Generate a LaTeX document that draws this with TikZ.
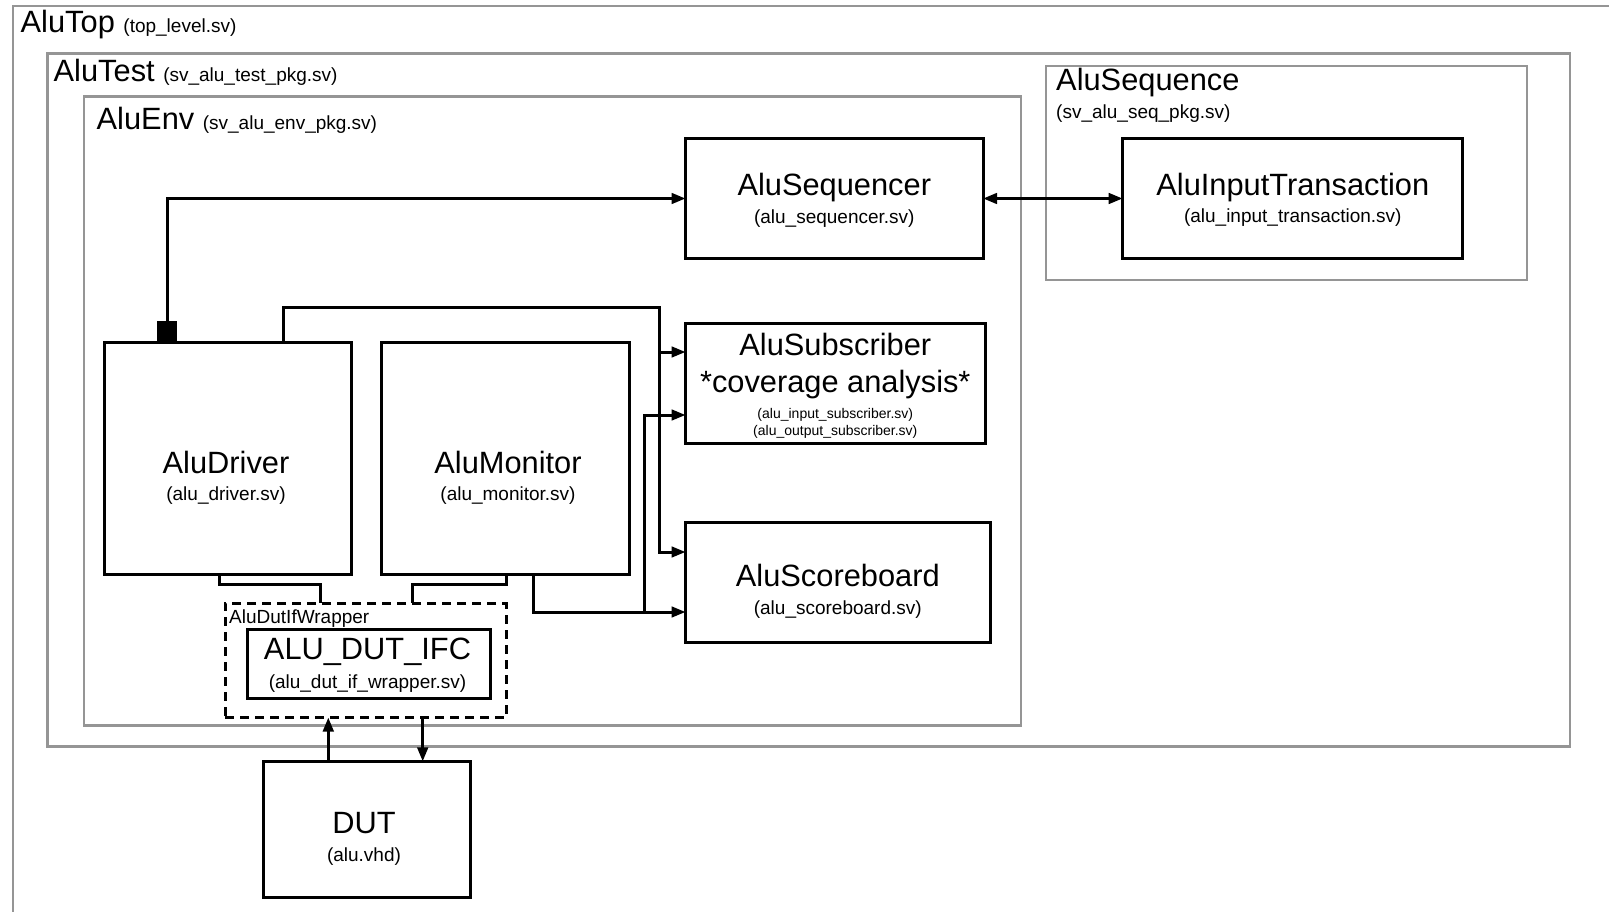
\documentclass[tikz,border=0pt]{standalone}
\usepackage{fontspec}
\setmainfont{Liberation Sans}
\usetikzlibrary{arrows.meta}
\newcommand{\bigf}{\fontsize{30.8}{34}\selectfont}
\newcommand{\smf}{\fontsize{19}{22}\selectfont}
\newcommand{\tinyf}{\fontsize{14}{16}\selectfont}
\definecolor{framegray}{HTML}{959595}
\begin{document}
\begin{tikzpicture}[x=1pt,y=-1pt,
  gframe/.style={draw=framegray, line width=2.8pt},
  blk/.style={draw=black, line width=3pt, inner sep=0pt, outer sep=0pt},
  dashblk/.style={draw=black, line width=3pt, dash pattern=on 9pt off 6pt, inner sep=0pt, outer sep=0pt},
  wire/.style={draw=black, line width=3pt},
  arr/.style={wire, -{Triangle[length=14pt,width=10.5pt]}},
  biarr/.style={wire, {Triangle[length=14pt,width=10.5pt]}-{Triangle[length=14pt,width=10.5pt]}},
  ttl/.style={anchor=base, inner sep=0pt, font=\bigf},
  sub/.style={anchor=base, inner sep=0pt, font=\smf},
  tiny/.style={anchor=base, inner sep=0pt, font=\tinyf},
  hdr/.style={anchor=base west, inner sep=0pt}]

\fill[white] (0,0) rectangle (1609,912);
\useasboundingbox (0,0) rectangle (1609,912);

% grey frames
\draw[gframe] (1615,6) -- (13,6) -- (13,918);
\draw[gframe] (47.2,53.4) rectangle (1570,746.5);
\draw[gframe] (84,96.5) rectangle (1021,725.5);
\draw[gframe] (1046,66) rectangle (1527,280);

% frame headers
\node[hdr] (topT) at (20.5,33) {\bigf AluTop \smf(top\_level.sv)};
\node[hdr] (testT) at (53.5,82) {\bigf AluTest \smf(sv\_alu\_test\_pkg.sv)};
\node[hdr] (envT) at (96.5,130) {\bigf AluEnv \smf(sv\_alu\_env\_pkg.sv)};
\node[hdr, font=\bigf] (seqpT) at (1056,90.5) {AluSequence};
\node[hdr, font=\smf] (seqpF) at (1056,118.5) {(sv\_alu\_seq\_pkg.sv)};

% blocks
\node[blk, minimum width=297.5pt, minimum height=120pt] (seq) at (834.3,198.5) {};
\node[blk, minimum width=340.3pt, minimum height=120pt] (ait) at (1292.8,198.5) {};
\node[blk, minimum width=299.5pt, minimum height=120.5pt] (subs) at (835.3,383.3) {};
\node[blk, minimum width=304.5pt, minimum height=120.4pt] (sb) at (837.8,582.2) {};
\node[blk, minimum width=247.3pt, minimum height=231.5pt] (drv) at (228.3,458.3) {};
\node[blk, minimum width=247.8pt, minimum height=231.5pt] (mon) at (505.6,458.3) {};
\node[dashblk, minimum width=281pt, minimum height=114.2pt] (wrap) at (365.5,660.4) {};
\node[blk, minimum width=243.3pt, minimum height=68.5pt] (ifc) at (369.3,663.8) {};
\node[blk, minimum width=207.3pt, minimum height=135.6pt] (dut) at (367.3,829.2) {};
\node[fill=black, inner sep=0pt, minimum width=20.7pt, minimum height=21pt] (port) at (167,331.5) {};

% block labels
\node[ttl] (seqT) at (834.3,196) {AluSequencer};
\node[sub] (seqF) at (834.3,223.5) {(alu\_sequencer.sv)};
\node[ttl] (aitT) at (1292.8,196) {AluInputTransaction};
\node[sub] (aitF) at (1292.8,222.5) {(alu\_input\_transaction.sv)};
\node[ttl] (subT) at (835.3,355.5) {AluSubscriber};
\node[ttl] (subT2) at (835.3,392.5) {*coverage analysis*};
\node[tiny] (subF1) at (835.3,418.5) {(alu\_input\_subscriber.sv)};
\node[tiny] (subF2) at (835.3,435.5) {(alu\_output\_subscriber.sv)};
\node[ttl] (sbT) at (837.8,586) {AluScoreboard};
\node[sub] (sbF) at (837.8,614) {(alu\_scoreboard.sv)};
\node[ttl] (drvT) at (226,473) {AluDriver};
\node[sub] (drvF) at (226,500) {(alu\_driver.sv)};
\node[ttl] (monT) at (508,473) {AluMonitor};
\node[sub] (monF) at (508,500) {(alu\_monitor.sv)};
\node[ttl] (ifcT) at (367.5,659) {ALU\_DUT\_IFC};
\node[sub] (ifcF) at (367.5,688) {(alu\_dut\_if\_wrapper.sv)};
\node[hdr, font=\smf] (wrapT) at (229,623) {AluDutIfWrapper};
\node[ttl] (dutT) at (364,833) {DUT};
\node[sub] (dutF) at (364,861.5) {(alu.vhd)};

% connector anchor coordinates
\coordinate (subIn1) at (subs.west |- 0,352);
\coordinate (subIn2) at (subs.west |- 0,415);
\coordinate (sbIn1) at (sb.west |- 0,552);
\coordinate (sbIn2) at (sb.west |- 0,612);
\coordinate (dA) at (drv.north -| 283,0);
\coordinate (jd) at (659,307);
\coordinate (mA) at (mon.south -| 533,0);
\coordinate (jm) at (sbIn2 -| 644,0);
\coordinate (dB) at (drv.south -| 219,0);
\coordinate (mB) at (mon.south -| 506.7,0);
\coordinate (kd) at (320,584.3);
\coordinate (km) at (412.3,584.3);

% connectors
\draw[arr] (port.north) |- (seq.west);
\draw[biarr] (seq.east) -- (ait.west);
\draw[arr] (dA) |- (jd) |- (sbIn1);
\draw[arr] (jd |- subIn1) -- (subIn1);
\draw[arr] (mA) |- (sbIn2);
\draw[arr] (jm) |- (subIn2);
\draw[wire] (dB) |- (kd) -- (kd |- wrap.north);
\draw[wire] (mB) |- (km) -- (km |- wrap.north);
\draw[arr] (dut.north -| 328.3,0) -- (wrap.south -| 328.3,0);
\draw[arr] (wrap.south -| 422.7,0) -- (dut.north -| 422.7,0);
\end{tikzpicture}
\end{document}
